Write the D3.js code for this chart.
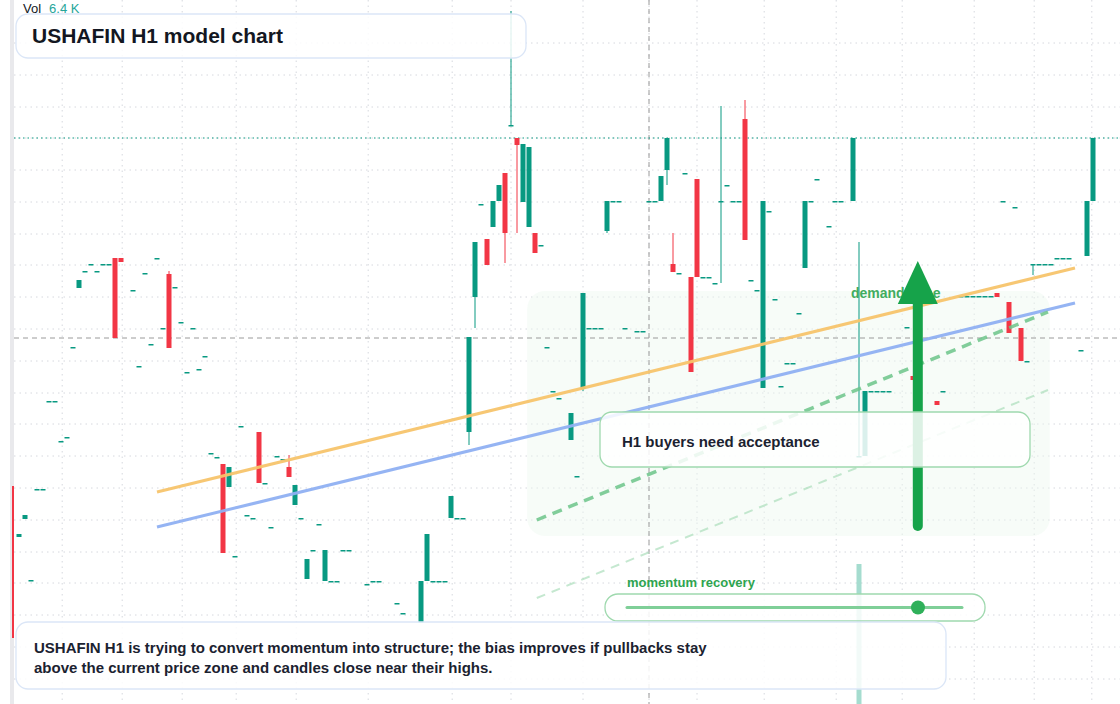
<!DOCTYPE html>
<html><head><meta charset="utf-8">
<script src="https://cdn.jsdelivr.net/npm/d3@7"></script>
<style>body{margin:0;background:#fff;font-family:"Liberation Sans",Arial,sans-serif}svg{display:block}</style>
</head><body><svg id="c" width="1120" height="704"></svg>
<script>
// candle index, open, close, high, low (null high/low => body only)
const idx   = [0,1,2,3,4,5,6,7,8,9,10,11,12,13,14,15,16,17,18,20,21,22,23,24,25,26,27,28,29,30,31,32,33,34,35,36,37,38,39,40,41,42,43,44,45,46,47,48,49,50,51,52,53,54,55,56,59,60,61,64,65,68,69,70,71,72,73,74,75,76,77,78,79,80,81,82,83,84,85,86,87,88,89,90,91,93,94,95,96,97,98,99,100,101,102,104,105,106,107,108,109,110,111,112,113,114,115,116,117,118,119,120,121,122,123,124,125,126,127,128,129,130,131,132,133,134,136,137,138,140,141,142,143,144,145,146,149,150,154,155,158,159,160,161,162,163,164,165,166,167,168,169,170,171,172,173,174,175,176,178,179,180];
const opens = [51.4,46.3,48.1,42.0,51.1,51.1,59.9,59.9,55.9,56.3,65.3,71.2,72.9,73.6,72.9,73.6,73.6,74.2,74.2,71.0,63.4,72.7,65.6,74.2,67.2,72.6,71.3,67.8,62.8,67.2,63.1,64.4,54.7,54.3,53.6,51.3,44.4,57.4,48.5,48.2,56.8,51.7,47.3,54.4,54.1,53.3,49.5,48.2,42.1,45.0,47.6,41.9,41.9,41.9,45.0,45.0,41.6,41.9,41.9,39.7,38.7,37.7,41.9,41.9,41.9,41.9,48.2,48.2,48.2,56.8,70.3,79.6,76.1,77.3,79.9,82.7,87.5,86.2,79.8,77.3,76.7,75.5,65.3,60.9,60.2,56.0,52.4,61.1,67.2,67.2,67.2,76.9,79.9,79.9,67.2,66.9,66.9,79.9,79.9,79.9,83.0,73.6,72.7,82.7,72.3,82.1,72.3,72.3,71.7,79.9,81.5,79.9,79.9,88.1,72.0,71.0,61.2,78.9,70.1,61.4,63.7,63.7,68.7,73.2,79.9,82.1,77.4,79.9,79.9,79.9,54.4,54.4,60.9,60.9,60.9,60.9,67.3,62.4,59.9,60.9,70.4,70.4,70.4,70.4,70.4,70.4,70.7,79.9,69.8,79.3,67.2,63.9,73.6,73.6,73.6,73.6,74.2,74.2,74.2,65.0,74.4,79.9];
const closes= [36.2,46.6,48.5,42.0,51.1,51.1,59.9,59.9,55.9,56.3,65.3,72.0,72.9,73.6,72.9,73.6,73.6,66.2,73.8,71.0,63.4,72.7,65.6,74.2,67.2,65.2,71.3,67.8,62.8,67.2,63.1,64.4,54.7,54.3,44.7,53.3,44.4,57.4,48.5,48.2,51.7,51.7,47.3,54.4,54.1,52.3,51.5,48.2,44.1,45.0,47.6,45.0,41.9,41.9,45.0,45.0,41.6,41.9,41.9,39.7,38.7,41.9,46.6,41.9,41.9,41.9,50.4,48.2,48.2,66.3,75.8,79.6,73.5,79.9,81.5,76.7,87.5,85.5,85.6,85.3,74.7,75.5,65.3,60.9,60.2,58.7,52.4,70.7,67.2,67.2,67.2,79.9,79.9,79.9,67.2,66.9,66.9,79.9,79.9,82.4,86.2,72.8,72.7,82.7,62.8,72.3,72.3,72.3,71.7,79.9,81.5,79.9,79.9,76.0,72.0,71.0,79.9,78.9,70.1,61.4,63.7,63.7,68.7,79.9,79.9,82.1,77.4,79.9,79.9,86.2,54.4,60.9,60.9,60.9,60.9,60.9,67.3,62.0,59.5,60.9,70.4,70.4,70.4,70.4,70.4,70.4,70.3,79.9,66.7,79.3,63.9,63.9,73.6,73.6,73.6,73.6,74.2,74.2,74.2,65.0,79.9,86.2];
const highs = {26:72.9,46:54.5,83:98.9,99:79.9,110:76.7,118:89.4,122:90.0,141:75.8};
const lows  = {76:55.5,77:67.2,82:73.7,84:76.7,95:60.9,99:76.7,109:81.5,118:71.7,170:72.5};
const gridIdx = [8.2,18.2,28.2,37.2,47.2,59.2,73.2,83,95,106,114,125.2,137.2,148.2,160.2,170.2,179.8];
const gridPrice = [95.7,92.5,89.3,86.2,83.0,79.8,76.6,73.5,70.3,67.1,63.9,60.7,57.6,54.4,51.2,48.0,44.8,41.7,38.5,35.3,32.1];
const resistLine = [[24,50.8],[177,73.2]];
const supportLine = [[24,47.3],[177,69.7]];
const projLine = [[87.3,48.0],[172.5,68.8]];
const projLine2 = [[87.3,40.2],[172.5,61.0]];
const zone = {i0:85.7,i1:172.8,p0:46.4,p1:70.9};
const lastPrice = 86.2, crossPrice = 66.2, crossIdx = 106;

const svg = d3.select("#c");
const x = d3.scaleLinear().domain([0,180]).range([13,1093]);
const y = d3.scaleLinear().domain([29.6,100]).range([704,0]);
const G="#089981", R="#f23645";

svg.append("rect").attr("x",10).attr("y",0).attr("width",4).attr("height",704).attr("fill","#e9e9ec");
const g = svg.append("g");
g.selectAll(".gh").data(gridPrice).join("line").attr("x1",14).attr("x2",1120).attr("y1",d=>y(d)).attr("y2",d=>y(d)).attr("stroke","#d6d8de").attr("stroke-dasharray","1.5,4");
g.selectAll(".gv").data(gridIdx).join("line").attr("y1",0).attr("y2",704).attr("x1",d=>x(d)).attr("x2",d=>x(d)).attr("stroke","#d6d8de").attr("stroke-dasharray","1.5,4");

// zone
svg.append("rect").attr("x",x(zone.i0)).attr("y",y(zone.p1)).attr("width",x(zone.i1)-x(zone.i0)).attr("height",y(zone.p0)-y(zone.p1)).attr("rx",18).attr("fill","#eef8f0").attr("opacity",0.45);

// crosshair
svg.append("line").attr("x1",14).attr("x2",1120).attr("y1",y(crossPrice)).attr("y2",y(crossPrice)).attr("stroke","#9a9a9a").attr("stroke-dasharray","5,4");
svg.append("line").attr("x1",x(crossIdx)).attr("x2",x(crossIdx)).attr("y1",0).attr("y2",704).attr("stroke","#9a9a9a").attr("stroke-dasharray","5,4");
svg.append("line").attr("x1",14).attr("x2",1120).attr("y1",y(lastPrice)).attr("y2",y(lastPrice)).attr("stroke",G).attr("stroke-dasharray","1.5,3");

// volume ghost bar
svg.append("rect").attr("x",x(141)-2.5).attr("y",564).attr("width",5).attr("height",140).attr("fill","#8fd3c3").attr("opacity",0.8);

// candles
const cg = svg.append("g");
idx.forEach((i,k)=>{
  const o=opens[k], c=closes[k], col=c>=o?G:R;
  const h=highs[i]!=null?highs[i]:Math.max(o,c), l=lows[i]!=null?lows[i]:Math.min(o,c);
  if(h>Math.max(o,c)||l<Math.min(o,c)) cg.append("line").attr("x1",x(i)).attr("x2",x(i)).attr("y1",y(h)).attr("y2",y(l)).attr("stroke",col).attr("stroke-width",1);
  const top=y(Math.max(o,c)), bh=Math.max(1.5,Math.abs(y(o)-y(c)));
  cg.append("rect").attr("x",x(i)-(i===0?1:2.5)).attr("y",top).attr("width",i===0?2:5).attr("height",bh).attr("fill",col);
});

const line = d3.line().x(d=>x(d[0])).y(d=>y(d[1]));
svg.append("path").attr("d",line(resistLine)).attr("stroke","#f7c46c").attr("stroke-width",3).attr("fill","none").attr("opacity",0.95);
svg.append("path").attr("d",line(supportLine)).attr("stroke","#8fb0f2").attr("stroke-width",3).attr("fill","none").attr("opacity",0.95);
svg.append("path").attr("d",line(projLine)).attr("stroke","#6cc48a").attr("stroke-width",3.5).attr("stroke-dasharray","10,7").attr("fill","none").attr("opacity",0.85);
svg.append("path").attr("d",line(projLine2)).attr("stroke","#9ed8b0").attr("stroke-width",2).attr("stroke-dasharray","9,7").attr("fill","none").attr("opacity",0.6);

svg.append("text").attr("x",851).attr("y",298).text("demand zone").attr("fill","#2ea44f").attr("font-weight",700).attr("font-size",14).attr("opacity",0.9);

// arrow
const ax=x(150.8);
svg.append("line").attr("x1",ax).attr("x2",ax).attr("y1",y(47.4)).attr("y2",y(69.6)).attr("stroke","#16a34a").attr("stroke-width",10).attr("stroke-linecap","round");
svg.append("path").attr("d",`M${ax-20},${y(69.6)}L${ax},${y(73.9)}L${ax+20},${y(69.6)}Z`).attr("fill","#16a34a");

function box(x0,y0,w,h,stroke,r){svg.append("rect").attr("x",x0).attr("y",y0).attr("width",w).attr("height",h).attr("rx",r).attr("fill","rgba(255,255,255,0.85)").attr("stroke",stroke).attr("stroke-width",1.3);}
box(600,412,430,55,"#9fd9ae",12);
svg.append("text").attr("x",622).attr("y",447).text("H1 buyers need acceptance").attr("font-weight",700).attr("font-size",15).attr("fill","#1b2230");

svg.append("text").attr("x",627).attr("y",587).text("momentum recovery").attr("fill","#2ea44f").attr("font-weight",700).attr("font-size",13);
box(605,594,380,27,"#9fd9ae",13);
svg.append("line").attr("x1",627).attr("x2",962).attr("y1",607.5).attr("y2",607.5).attr("stroke","#7fcf98").attr("stroke-width",3).attr("stroke-linecap","round");
svg.append("circle").attr("cx",918).attr("cy",607.5).attr("r",7).attr("fill","#2fb05a");

box(16,622,930,67,"#dbe6f7",12);
svg.append("text").attr("x",34).attr("y",653).text("USHAFIN H1 is trying to convert momentum into structure; the bias improves if pullbacks stay").attr("font-weight",700).attr("font-size",15).attr("fill","#1b2230");
svg.append("text").attr("x",34).attr("y",673).text("above the current price zone and candles close near their highs.").attr("font-weight",700).attr("font-size",15).attr("fill","#1b2230");

box(16,14,510,44,"#dbe6f7",12);
svg.append("text").attr("x",32).attr("y",43).text("USHAFIN H1 model chart").attr("font-weight",700).attr("font-size",21).attr("fill","#131722");
const v=svg.append("text").attr("x",23).attr("y",13).attr("font-size",13);
v.append("tspan").text("Vol").attr("fill","#131722");
v.append("tspan").attr("dx",8).text("6.4 K").attr("fill","#26a69a");
</script></body></html>
